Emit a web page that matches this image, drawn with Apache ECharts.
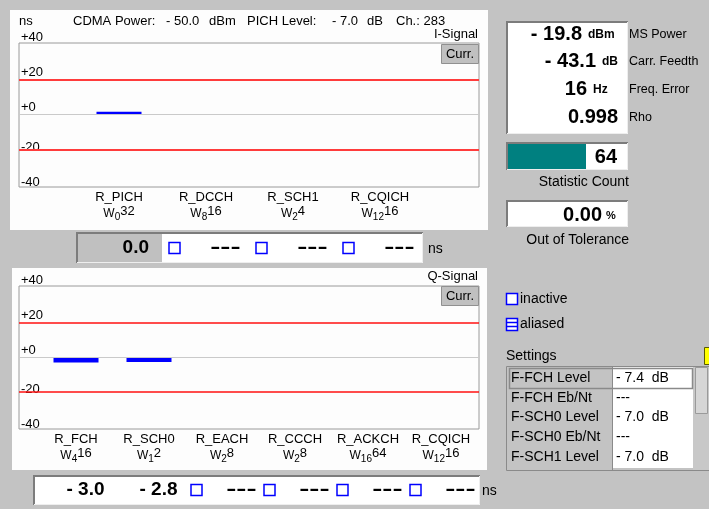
<!DOCTYPE html>
<html><head><meta charset="utf-8">
<script src="https://cdn.jsdelivr.net/npm/echarts@6/dist/echarts.min.js"></script>
<style>html,body{margin:0;padding:0;background:#c3c3c3;overflow:hidden}#c{width:709px;height:509px}</style>
</head><body><div id="c"></div>
<script>
// ---------- data ----------
const iCategories = ['R_PICH', 'R_DCCH', 'R_SCH1', 'R_CQICH'];
const iWalsh = [[0, 32], [8, 16], [2, 4], [12, 16]];
const iValues = [0.0, null, null, null];
const qCategories = ['R_FCH', 'R_SCH0', 'R_EACH', 'R_CCCH', 'R_ACKCH', 'R_CQICH'];
const qWalsh = [[4, 16], [1, 2], [2, 8], [2, 8], [16, 64], [12, 16]];
const qValues = [-3.0, -2.8, null, null, null, null];
const yTicks = [-40, -20, 0, 20, 40];
const limitLines = [20, -20];
const measLabels = ['MS Power', 'Carr. Feedth', 'Freq. Error', 'Rho'];
const measValues = ['- 19.8', '- 43.1', '16', '0.998'];
const measUnits = ['dBm', 'dB', 'Hz', ''];
const settingsLabels = ['F-FCH Level', 'F-FCH Eb/Nt', 'F-SCH0 Level', 'F-SCH0 Eb/Nt', 'F-SCH1 Level'];
const settingsValues = ['- 7.4  dB', '---', '- 7.0  dB', '---', '- 7.0  dB'];
const statCount = '64';
const outOfTol = '0.00';

// ---------- layout ----------
const FONT = '"Liberation Sans", Arial, sans-serif';
const Y_MIN = -41.2, Y_MAX = 40.8;
const BOX_L = 19, BOX_W = 460;
const I_TOP = 43, I_H = 144, Q_TOP = 286, Q_H = 143;
const I_LEFT = 75.5, I_SLOT = 87, Q_LEFT = 39.5, Q_SLOT = 73;

const g = [];
function rect(x, y, w, h, fill, stroke, lw, z) {
  g.push({type: 'rect', silent: true, z: z == null ? 5 : z, shape: {x, y, width: w, height: h},
    style: {fill: fill || 'none', stroke: stroke || null, lineWidth: lw || 1}});
}
function line(x1, y1, x2, y2, stroke, lw, z) {
  g.push({type: 'line', silent: true, z: z == null ? 6 : z, shape: {x1, y1, x2, y2},
    style: {stroke, lineWidth: lw || 1}});
}
function poly(points, stroke, lw) {
  g.push({type: 'polyline', silent: true, z: 6, shape: {points}, style: {stroke, lineWidth: lw || 1, fill: null}});
}
function text(str, x, y, size, o) {
  o = o || {};
  const font = (o.bold ? 'bold ' : '') + size + 'px ' + FONT;
  const el = {type: 'text', silent: true, z: 10, x, y,
    style: {text: str, x: 0, y: 0, font, fill: o.color || '#000',
      align: o.align || 'left', verticalAlign: 'middle',
      textAlign: o.align || 'left', textVerticalAlign: 'middle'}};
  if (o.scaleX) el.scaleX = o.scaleX;
  g.push(el);
}
function sunken(x, y, w, h, fill) {
  rect(x, y, w, h, fill, null, 1, 4);
  poly([[x + 1, y + h], [x + 1, y + 1], [x + w, y + 1]], '#7c7c7c', 2);
  poly([[x + 1, y + h - 0.5], [x + w - 0.5, y + h - 0.5], [x + w - 0.5, y + 1]], '#eeeeee', 1);
}
function blueSquare(x, y) { rect(x + 0.5, y + 0.5, 11, 11, '#ffffff', '#0000ff', 1.5, 7); }
function fmt(v) { return v < 0 ? '- ' + Math.abs(v).toFixed(1) : v.toFixed(1); }

// panels
rect(10, 10, 478, 220, '#fdfdfd', null, 1, -5);
rect(12, 268, 475, 202, '#fdfdfd', null, 1, -5);

// header
text('ns', 19, 21, 13);
text('CDMA Power:', 73, 21, 13);
text('- 50.0', 166, 21, 13);
text('dBm', 209, 21, 13);
text('PICH Level:', 247, 21, 13);
text('- 7.0', 332, 21, 13);
text('dB', 367, 21, 13);
text('Ch.: 283', 396, 21, 13);
text('I-Signal', 478, 34, 13, {align: 'right'});
text('Q-Signal', 478, 276, 13, {align: 'right'});

// Curr. buttons
[[I_TOP + 1, 'Curr.'], [Q_TOP, 'Curr.']].forEach(([y, t]) => {
  rect(441.5, y + 0.5, 37, 19, '#c0c0c0', '#909090', 1, 8);
  text(t, 460, y + 10, 13, {align: 'center'});
});

// I value box
sunken(76, 232, 347, 31, '#ffffff');
rect(78, 234, 84, 29, '#c0c0c0', null, 1, 5);
iValues.forEach((v, k) => {
  const cl = I_LEFT + k * I_SLOT, cr = cl + I_SLOT;
  if (v != null) text(fmt(v), cr - 13.5, 248, 19, {bold: true, align: 'right'});
  else { blueSquare(cl + 6, 242); text('---', cr - 9, 248, 19, {bold: true, align: 'right', scaleX: 1.6}); }
});
text('ns', 428, 249, 14);

// Q value box
sunken(33, 475, 447, 30, '#ffffff');
qValues.forEach((v, k) => {
  const cl = Q_LEFT + k * Q_SLOT, cr = cl + Q_SLOT;
  if (v != null) text(fmt(v), cr - 8, 490, 19, {bold: true, align: 'right'});
  else { blueSquare(cl + 5, 484); text('---', cr - 2, 490, 19, {bold: true, align: 'right', scaleX: 1.6}); }
});
text('ns', 482, 491, 14);

// right measurement box
sunken(506, 21, 122, 113, '#ffffff');
const measY = [34, 61, 89, 117];
const measNumRight = [582, 596, 587, 618];
measValues.forEach((v, i) => {
  text(v, measNumRight[i], measY[i], 20, {bold: true, align: 'right'});
  if (measUnits[i]) text(measUnits[i], measNumRight[i] + 6, measY[i] + 1, 12, {bold: true});
  text(measLabels[i], 629, measY[i] + 1, 12.5);
});

// statistic count
sunken(506, 142, 122, 28, '#ffffff');
rect(508, 144, 78, 25, '#008080', null, 1, 6);
text(statCount, 617, 157, 20, {bold: true, align: 'right'});
text('Statistic Count', 629, 182, 14, {align: 'right'});

// out of tolerance
sunken(506, 200, 122, 27, '#ffffff');
text(outOfTol, 602, 215, 20, {bold: true, align: 'right'});
text('%', 606, 216, 11, {bold: true});
text('Out of Tolerance', 629, 240, 14, {align: 'right'});

// legend
blueSquare(506, 293);
text('inactive', 520, 299, 14);
rect(506.5, 318.5, 11, 12, '#ffffff', '#0000ff', 1.5, 7);
line(507, 322.5, 517, 322.5, '#0000ff', 1.5, 8);
line(507, 326.5, 517, 326.5, '#0000ff', 1.5, 8);
text('aliased', 520, 324, 14);

// settings table
text('Settings', 506, 356, 14);
rect(704.5, 347.5, 6, 17, '#ffff00', '#5a5a00', 1, 8);
rect(506.5, 366.5, 205, 104, '#c3c3c3', '#8a8a8a', 1, 4);
rect(612, 367, 81, 101, '#ffffff', null, 1, 5);
rect(693, 367, 16, 103, '#c8c8c8', null, 1, 5);
rect(695.5, 367.5, 12, 46, '#d6d6d6', '#9a9a9a', 1, 6);
line(612.5, 367, 612.5, 470, '#8a8a8a', 1, 6);
rect(509.5, 368.5, 183, 20, 'none', '#8a8a8a', 1.5, 7);
const rowY = [378, 398, 417, 437, 457];
settingsLabels.forEach((l, i) => {
  text(l, 511, rowY[i], 14);
  text(settingsValues[i], 616, rowY[i], 14);
});

// ---------- chart ----------
function catLabel(walsh) {
  return {
    interval: 0, margin: 3, color: '#000',
    formatter: (val, idx) => '{n|' + val + '}\n{w|W}{sub|' + walsh[idx][0] + '}{sup|' + walsh[idx][1] + '}',
    rich: {
      n: {fontSize: 13, lineHeight: 15, fontFamily: FONT, color: '#000'},
      w: {fontSize: 12, lineHeight: 17, fontFamily: FONT, color: '#000', verticalAlign: 'middle'},
      sub: {fontSize: 10, lineHeight: 11, fontFamily: FONT, color: '#000', verticalAlign: 'bottom'},
      sup: {fontSize: 13, lineHeight: 13, fontFamily: FONT, color: '#000', verticalAlign: 'top'}
    }
  };
}
function frameY(gi) {
  return {
    type: 'value', gridIndex: gi, min: Y_MIN, max: Y_MAX,
    axisLine: {show: false}, axisTick: {show: false}, splitLine: {show: false},
    axisLabel: {
      inside: true, margin: 2, align: 'left', verticalAlign: 'bottom', customValues: yTicks,
      formatter: v => v < 0 ? '{n|' + v + '}' : '{p|+' + v + '}',
      rich: {
        p: {fontSize: 13, lineHeight: 14, fontFamily: FONT, color: '#000'},
        n: {fontSize: 13, lineHeight: 5, fontFamily: FONT, color: '#000'}
      }
    }
  };
}
function limits(redColor, redWidth) {
  return {
    silent: true, symbol: ['none', 'none'], label: {show: false}, animation: false,
    data: [{yAxis: 0, lineStyle: {color: '#cacaca', width: 1, type: 'solid'}}]
      .concat(limitLines.map(v => ({yAxis: v, lineStyle: {color: redColor, width: redWidth, type: 'solid'}})))
  };
}

const option = {
  animation: false,
  backgroundColor: '#c3c3c3',
  textStyle: {fontFamily: FONT},
  grid: [
    {left: BOX_L, top: I_TOP, width: BOX_W, height: I_H, show: true, borderColor: '#9a9a9a', borderWidth: 1, backgroundColor: 'transparent'},
    {left: I_LEFT, top: I_TOP, width: I_SLOT * iCategories.length, height: I_H},
    {left: BOX_L, top: Q_TOP, width: BOX_W, height: Q_H, show: true, borderColor: '#9a9a9a', borderWidth: 1, backgroundColor: 'transparent'},
    {left: Q_LEFT, top: Q_TOP, width: Q_SLOT * qCategories.length, height: Q_H}
  ],
  xAxis: [
    {type: 'value', gridIndex: 0, min: 0, max: 1, show: false},
    {type: 'category', gridIndex: 1, data: iCategories, axisLine: {show: false}, axisTick: {show: false}, axisLabel: catLabel(iWalsh)},
    {type: 'value', gridIndex: 2, min: 0, max: 1, show: false},
    {type: 'category', gridIndex: 3, data: qCategories, axisLine: {show: false}, axisTick: {show: false}, axisLabel: catLabel(qWalsh)}
  ],
  yAxis: [
    frameY(0),
    {type: 'value', gridIndex: 1, min: Y_MIN, max: Y_MAX, show: false},
    frameY(2),
    {type: 'value', gridIndex: 3, min: Y_MIN, max: Y_MAX, show: false}
  ],
  series: [
    {type: 'line', xAxisIndex: 0, yAxisIndex: 0, data: [], z: 1, silent: true, markLine: limits('#ff3c3c', 2)},
    {type: 'bar', xAxisIndex: 1, yAxisIndex: 1, data: iValues, barWidth: 45, barMinHeight: 3, z: 3, itemStyle: {color: '#0000ff'}},
    {type: 'line', xAxisIndex: 2, yAxisIndex: 2, data: [], z: 1, silent: true, markLine: limits('#ff1010', 1.5)},
    {type: 'bar', xAxisIndex: 3, yAxisIndex: 3, data: qValues, barWidth: 45, barMinHeight: 3, z: 3, itemStyle: {color: '#0000ff'}}
  ],
  graphic: {elements: g}
};
const chart = echarts.init(document.getElementById('c'), null, {renderer: 'canvas'});
chart.setOption(option);
</script>
</body></html>
